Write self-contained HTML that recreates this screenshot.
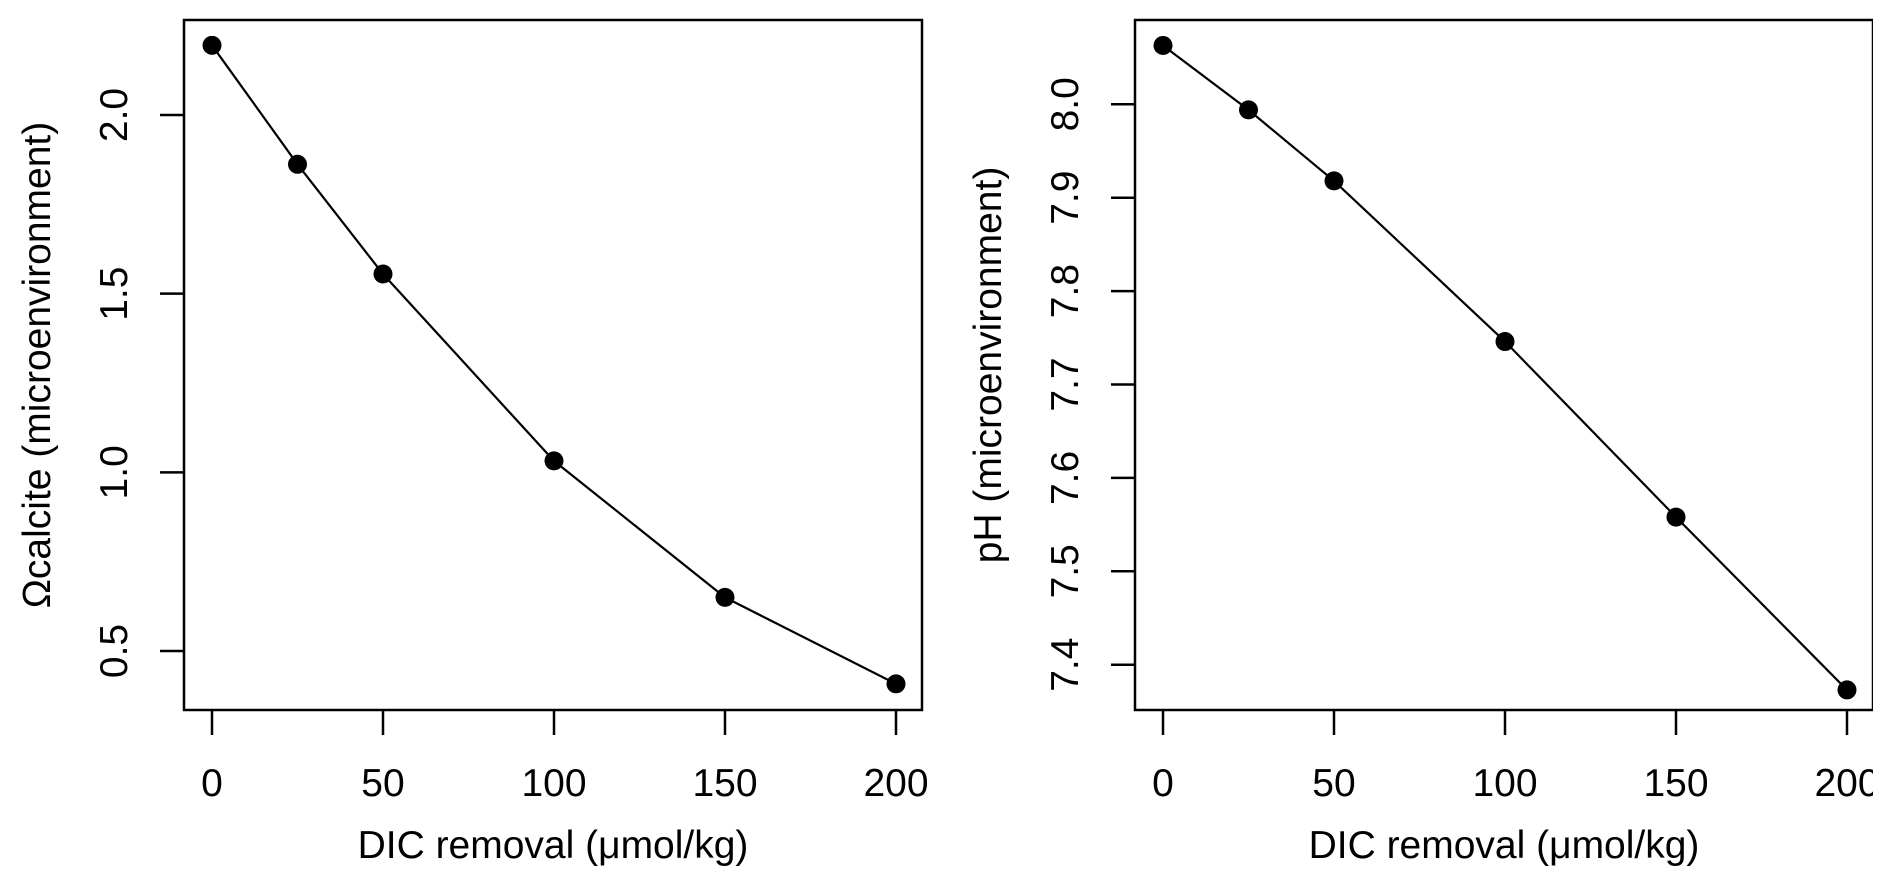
<!DOCTYPE html>
<html><head><meta charset="utf-8"><style>
html,body{margin:0;padding:0;background:#fff;}
svg{display:block;font-family:"Liberation Sans",Arial,sans-serif;}
</style></head><body>
<svg id="chart" width="1892" height="886" viewBox="0 0 1892 886" xmlns="http://www.w3.org/2000/svg">
<defs><clipPath id="clipR"><rect x="0" y="0" width="1873" height="886"/></clipPath></defs>
<g id="left"></g>
<g id="right" clip-path="url(#clipR)"></g>
</svg>
<script>
const xValues = [0, 25, 50, 100, 150, 200];
const omegaValues = [2.195, 1.862, 1.555, 1.032, 0.650, 0.408];
const phValues = [8.063, 7.994, 7.918, 7.746, 7.558, 7.373];
const xTicks = [0, 50, 100, 150, 200];
const omegaTicks = [0.5, 1.0, 1.5, 2.0];
const phTicks = [7.4, 7.5, 7.6, 7.7, 7.8, 7.9, 8.0];
const NS = "http://www.w3.org/2000/svg";
function mk(tag, attrs, parent){const e=document.createElementNS(NS,tag);for(const k in attrs)e.setAttribute(k,attrs[k]);parent.appendChild(e);return e;}
function panel(g, cfg){
  const xs = v => cfg.x0 + (v-0)*(cfg.x200-cfg.x0)/200;
  const ys = v => cfg.yA + (v-cfg.vA)*(cfg.yB-cfg.yA)/(cfg.vB-cfg.vA);
  const box = mk('rect',{x:cfg.left,y:20,width:cfg.right-cfg.left,height:690,fill:'none',stroke:'#000','stroke-width':2.5},g);
  
  
  xTicks.forEach(t=>{
    const l=mk('line',{x1:xs(t),x2:xs(t),y1:710,y2:735,stroke:'#000','stroke-width':2.5},g);
    
    
    const tx=mk('text',{x:xs(t),y:796,'font-size':39,'text-anchor':'middle'},g);
    tx.textContent=String(t);
    
    
  });
  cfg.ticks.forEach(t=>{
    const y=ys(t);
    const l=mk('line',{x1:cfg.left-24,x2:cfg.left,y1:y,y2:y,stroke:'#000','stroke-width':2.5},g);
    
    
    const tx=mk('text',{x:0,y:0,'font-size':39,'text-anchor':'middle',transform:`translate(${cfg.left-57},${y}) rotate(-90)`},g);
    tx.textContent=t.toFixed(1);
    
    
  });
  const pts=xValues.map((v,i)=>xs(v)+','+ys(cfg.vals[i])).join(' ');
  const pl=mk('polyline',{points:pts,fill:'none',stroke:'#000','stroke-width':2.2},g);
  
  
  xValues.forEach((v,i)=>{
    const c=mk('circle',{cx:xs(v),cy:ys(cfg.vals[i]),r:9.5,fill:'#000'},g);
    
    
  });
  const xt=mk('text',{x:(cfg.left+cfg.right)/2,y:858,'font-size':39,'text-anchor':'middle'},g);
  xt.textContent='DIC removal (\u03BCmol/kg)';
  
  
  const yt=mk('text',{x:0,y:0,'font-size':39,'text-anchor':'middle',transform:`translate(${cfg.left-134},365) rotate(-90)`},g);
  yt.textContent=cfg.ytitle;
  
  
}
panel(document.getElementById('left'),{left:184,right:922,x0:212,x200:896,yA:651,vA:0.5,yB:115,vB:2.0,ticks:omegaTicks,vals:omegaValues,ytitle:'\u03A9calcite (microenvironment)'});
panel(document.getElementById('right'),{left:1135,right:1873,x0:1163,x200:1847,yA:197.7,vA:7.9,yB:104.3,vB:8.0,ticks:phTicks,vals:phValues,ytitle:'pH (microenvironment)'});
</script>
</body></html>
